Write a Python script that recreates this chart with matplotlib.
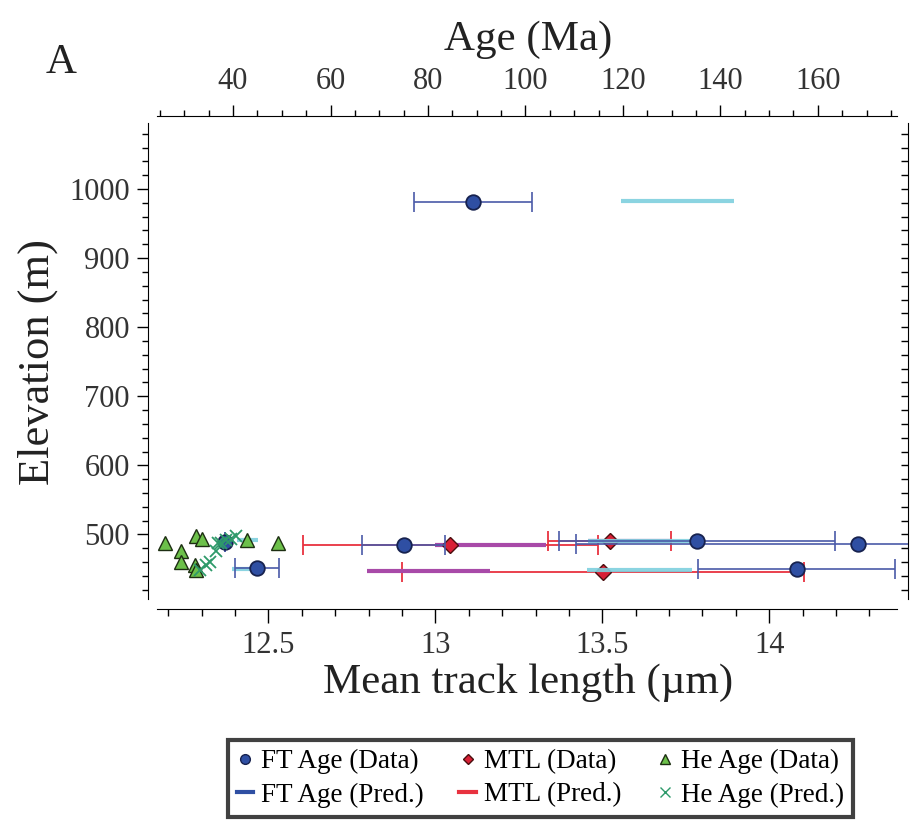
import matplotlib
matplotlib.use('Agg')
import matplotlib.pyplot as plt
from matplotlib.lines import Line2D
from matplotlib.ticker import FixedLocator, FormatStrFormatter
import numpy as np

plt.rcParams['font.family'] = ['Liberation Serif', 'DejaVu Serif']

# FT age data (top axis, Ma)
ft_age = [89.3, 38.4, 44.9, 75.0, 135.2, 168.2, 155.7]
ft_elev = [981, 489, 451, 485, 491, 486, 450]
ft_err = [12.1, 0.0, 4.5, 8.5, 28.3, 57.8, 20.2]

# FT age predictions (range lines)
ftp_lo = [119.6, 40.8, 39.7, 112.9, 112.6]
ftp_hi = [142.7, 45.2, 43.5, 135.1, 134.2]
ftp_elev = [983, 492, 450, 491, 448]

# mean track length data (bottom axis, um)
mtl = [13.045, 13.522, 13.502]
mtl_elev = [485, 491, 446]
mtl_err = [0.441, 0.185, 0.602]

# MTL predictions
mtlp_lo = [13.00, 13.456, 12.795]
mtlp_hi = [13.33, 13.707, 13.163]
mtlp_elev = [485, 491, 447]

# He ages
he_age = [26.0, 29.3, 29.3, 32.5, 33.6, 32.2, 32.5, 42.8, 49.3]
he_elev = [487, 476, 460, 497, 494, 456, 448, 492, 487]
hep_age = [33.2, 34.5, 35.3, 36.5, 37.5, 36.9, 38.6, 39.6, 40.6]
hep_elev = [448, 456, 460, 476, 487, 487, 492, 494, 497]

c_ft = '#2f4fa3'
c_ft_edge = '#17224f'
c_ft_err = '#4a5aa8'
c_cyan = '#7fd0de'
c_red = '#e8323f'
c_dia = '#d81f35'
c_mag = '#a84aa8'
c_tri = '#6cc04a'
c_x = '#2e9a6a'
c_txt = '#333333'

fig = plt.figure(figsize=(9.1, 8.23), dpi=100)
ax = fig.add_axes([148/910, 1-609/823, 760/910, 493.5/823])
ax.set_xlim(12.139, 14.416)
ax.set_ylim(392, 1106.4)
ax2 = ax.twiny()
ax2.set_xlim(22.55, 178.5)
ax3 = ax.twinx()
ax3.set_ylim(ax.get_ylim())

# MTL on bottom axis
ax.errorbar(mtl, mtl_elev, xerr=mtl_err, fmt='none', ecolor=c_red,
            elinewidth=1.3, capsize=7, capthick=1.3, zorder=2)
ax.hlines(mtlp_elev, mtlp_lo, mtlp_hi, color=c_mag, lw=3, zorder=3)
ax.plot(mtl, mtl_elev, 'D', ms=8, mfc=c_dia, mec='#4a0e0e', mew=1, zorder=4)

# ages on top axis
ax2.hlines(ftp_elev, ftp_lo, ftp_hi, color=c_cyan, lw=3, alpha=0.9, zorder=2)
ax2.errorbar(ft_age, ft_elev, xerr=ft_err, fmt='none', ecolor=c_ft_err,
             elinewidth=1.2, capsize=7, capthick=1.2, zorder=3)
ax2.plot(ft_age, ft_elev, 'o', ms=10.5, mfc=c_ft, mec=c_ft_edge, mew=1.3, zorder=4)
ax2.plot(he_age, he_elev, '^', ms=10.5, mfc=c_tri, mec='#1d2e12', mew=1, zorder=4)
ax2.plot(hep_age, hep_elev, 'x', ms=9, color=c_x, mew=1.3, zorder=5)

# spines
ax.spines['top'].set_visible(False)
ax.spines['bottom'].set_bounds(12.166, 14.382)
ax.spines['left'].set_bounds(407, 1095)
ax.spines['right'].set_bounds(407, 1095)
for s in ['bottom', 'left', 'right']:
    ax2.spines[s].set_visible(False)
ax2.spines['top'].set_bounds(24.4, 176.3)
for s in ax3.spines.values():
    s.set_visible(False)

# ticks
ax.xaxis.set_major_locator(FixedLocator([12.5, 13, 13.5, 14]))
ax.xaxis.set_major_formatter(FormatStrFormatter('%g'))
ax.xaxis.set_minor_locator(FixedLocator(np.arange(12.2, 14.35, 0.1)))
ax.yaxis.set_major_locator(FixedLocator(np.arange(500, 1001, 100)))
ax.yaxis.set_minor_locator(FixedLocator(np.arange(420, 1081, 20)))
ax2.xaxis.set_major_locator(FixedLocator(np.arange(40, 161, 20)))
ax2.xaxis.set_minor_locator(FixedLocator(np.arange(25, 176, 5)))
ax3.yaxis.set_major_locator(FixedLocator(np.arange(420, 1081, 20)))
ax3.yaxis.set_minor_locator(FixedLocator([]))

ax.tick_params(axis='x', which='major', direction='out', length=10, width=1,
               pad=6, labelsize=22, labelcolor=c_txt)
ax.tick_params(axis='x', which='minor', direction='out', length=5, width=1)
ax.tick_params(axis='y', which='major', direction='out', length=8, width=1,
               pad=5, labelsize=22, labelcolor=c_txt, right=False)
ax.tick_params(axis='y', which='minor', direction='out', length=4, width=1, right=False)
ax2.tick_params(axis='x', which='major', direction='out', length=8, width=1,
                pad=6, labelsize=22, labelcolor=c_txt)
ax2.tick_params(axis='x', which='minor', direction='out', length=4, width=1)
ax3.tick_params(axis='y', which='major', direction='in', length=5, width=1,
                labelright=False)

ax.set_xlabel('Mean track length (µm)', fontsize=31, color='#222222', labelpad=2)
ax.set_ylabel('Elevation (m)', fontsize=32, color='#222222', labelpad=8)
ax2.set_xlabel('Age (Ma)', fontsize=31, color='#222222', labelpad=12)
fig.text(46/910, 1-73/823, 'A', fontsize=31, color='#222222', va='baseline')

handles = [
    Line2D([], [], marker='o', ls='none', ms=7, mfc=c_ft, mec=c_ft_edge),
    Line2D([], [], ls='-', color=c_ft, lw=3),
    Line2D([], [], marker='D', ls='none', ms=5, mfc=c_dia, mec='#4a0e0e'),
    Line2D([], [], ls='-', color=c_red, lw=3),
    Line2D([], [], marker='^', ls='none', ms=7, mfc=c_tri, mec='#1d2e12'),
    Line2D([], [], marker='x', ls='none', ms=7, color=c_x),
]
labels = ['FT Age (Data)', 'FT Age (Pred.)', 'MTL (Data)', 'MTL (Pred.)',
          'He Age (Data)', 'He Age (Pred.)']
leg = fig.legend(handles, labels, ncol=3, loc='center',
                 bbox_to_anchor=(540.5/910, 1-778.5/823), fontsize=19.5,
                 frameon=True, fancybox=False, edgecolor='#111111',
                 handlelength=0.6, handletextpad=0.3, columnspacing=1.3,
                 labelspacing=0.3, borderpad=0.35)
leg.get_frame().set_linewidth(3)

fig.savefig('out.png', dpi=100)
